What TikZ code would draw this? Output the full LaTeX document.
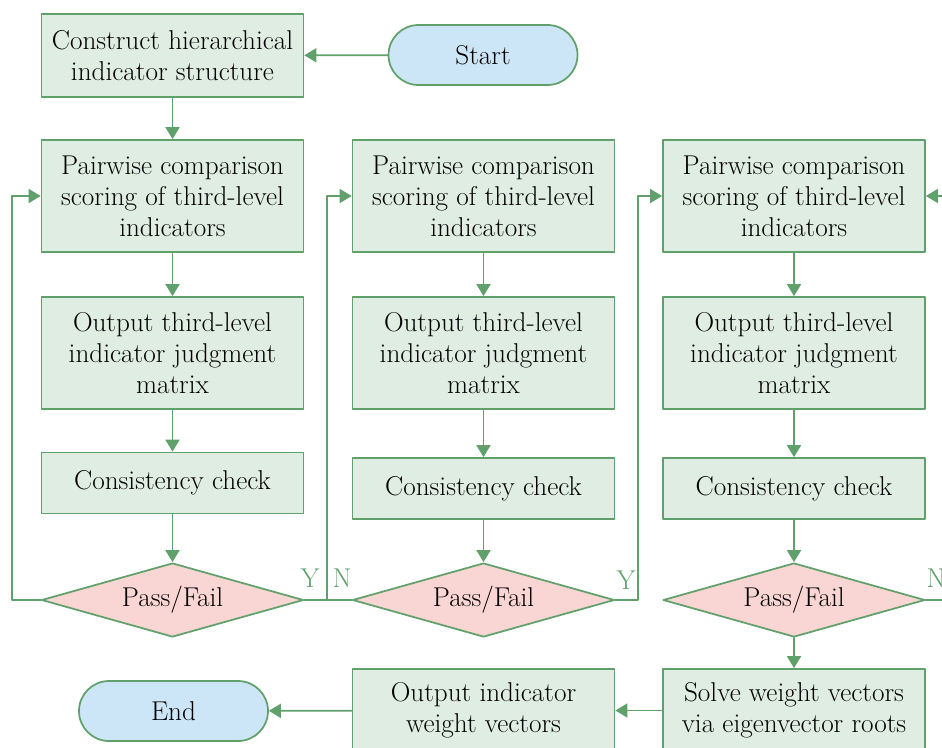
\documentclass[tikz,border=0pt]{standalone}
\usetikzlibrary{shapes.geometric,arrows.meta}
\definecolor{lgreen}{RGB}{96,160,106}
\definecolor{boxfill}{RGB}{224,237,227}
\definecolor{decfill}{RGB}{249,213,211}
\definecolor{termfill}{RGB}{204,230,247}
\tikzset{
	box/.style={draw=lgreen, fill=boxfill, line width=1.3pt, minimum width=196.5pt, align=center, inner sep=2pt},
	term/.style={draw=lgreen, fill=termfill, line width=1.3pt, rounded corners=22.5pt, minimum width=141.75pt, minimum height=45pt},
	dec/.style={diamond, draw=lgreen, fill=decfill, line width=1.3pt, aspect=3.5, inner sep=0pt, minimum width=196.5pt, minimum height=55.5pt},
	yn/.style={text=lgreen, inner sep=0pt},
	arr/.style={->, draw=lgreen, line width=1.3pt},
	ln/.style={draw=lgreen, line width=1.3pt}
}
\begin{document}
\begin{tikzpicture}[x=0.75pt,y=-0.75pt,>={Triangle[length=9pt,width=10.5pt]}, font=\fontsize{20.4pt}{23.3pt}\selectfont, line join=round, line cap=round]
	\useasboundingbox (0,0) rectangle (942,747);
	\def\rowa{196} \def\rowb{353} \def\rowd{600} % hang
	\node[box, minimum height=62.25pt] (cons) at (172.5,55.5) {Construct hierarchical\\indicator structure};
	\node[term] (start) at (483,55) {Start};
	\foreach \i/\x/\yc in {1/172.5/483, 2/483.5/488.5, 3/794/488.5}{
		\node[box, minimum height=84pt] (p\i) at (\x,\rowa) {Pairwise comparison\\scoring of third-level\\indicators};
		\node[box, minimum height=84pt] (o\i) at (\x,\rowb) {Output third-level\\indicator judgment\\matrix};
		\node[box, minimum height=45.75pt] (c\i) at (\x,\yc) {Consistency check};
		\node[dec] (d\i) at (\x,\rowd) {Pass/Fail};
	}
	\node[box, minimum height=62.25pt] (solve) at (794,710.5) {Solve weight vectors\\via eigenvector roots};
	\node[box, minimum height=62.25pt] (out) at (483.5,710.5) {Output indicator\\weight vectors};
	\node[term] (end) at (173.5,711) {End};
	\node[yn] (y1) at (310,578) {Y};
	\node[yn] (n1) at (342,578) {N};
	\node[yn] (y2) at (626,580) {Y};
	\node[yn] (n3) at (936,578) {N};
	\coordinate (l1) at (12,\rowd);
	\coordinate (j1) at (327,\rowd);
	\coordinate (j2) at (638,\rowd);
	\coordinate (r3) at (960,\rowd);
	\draw[arr] (start) -- (cons);
	\draw[arr] (cons) -- (p1);
	\foreach \i in {1,2,3}{
		\draw[arr] (p\i) -- (o\i);
		\draw[arr] (o\i) -- (c\i);
		\draw[arr] (c\i) -- (d\i);
	}
	\draw[arr] (d1.west) -- (l1) |- (p1.west);
	\draw[arr] (d1.east) -- (j1) |- (p2.west);
	\draw[ln] (d2.west) -- (j1);
	\draw[arr] (d2.east) -- (j2) |- (p3.west);
	\draw[arr] (d3.east) -- (r3) |- (p3.east);
	\draw[arr] (d3) -- (solve);
	\draw[arr] (solve) -- (out);
	\draw[arr] (out) -- (end);
\end{tikzpicture}
\end{document}
